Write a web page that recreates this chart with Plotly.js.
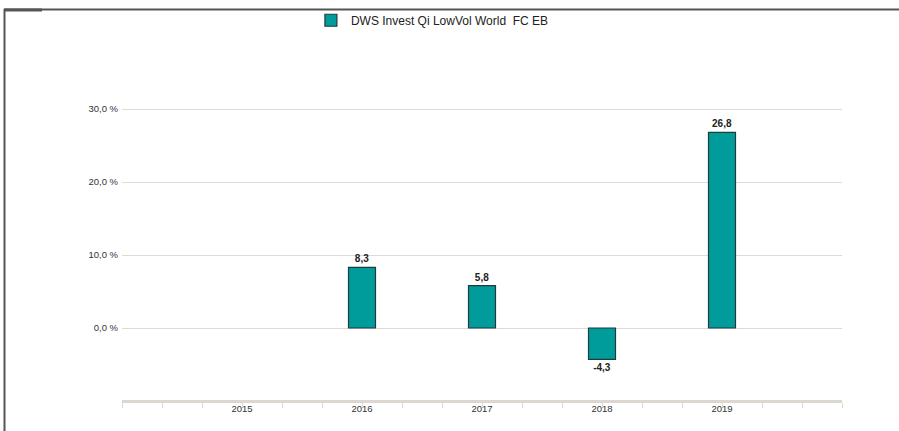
<!DOCTYPE html>
<html>
<head>
<meta charset="utf-8">
<script src="https://cdn.plot.ly/plotly-3.0.1.min.js"></script>
<style>
html,body{margin:0;padding:0;background:#fff;}
#chart{width:899px;height:431px;}
</style>
</head>
<body>
<div id="chart"></div>
<script>
// Data
var seriesName = "DWS Invest Qi LowVol World  FC EB";
var years = [2015, 2016, 2017, 2018, 2019];
var returns = [null, 8.3, 5.8, -4.3, 26.8];
var yTickValues = [0, 10, 20, 30, 40];
var xTickLabels = ["2015", "2016", "2017", "2018", "2019"];

var fontFam = "Arial, 'Liberation Sans', sans-serif";

var trace = {
  type: "bar",
  name: seriesName,
  x: years,
  y: returns,
  width: 0.225,
  marker: {color: "#009b9b", line: {color: "#1e3c3c", width: 1.2}},
  texttemplate: "%{y:.1f}",
  textposition: "outside",
  textfont: {family: fontFam, size: 10, color: "#222", weight: "bold"},
  cliponaxis: false,
  hoverinfo: "skip"
};

// border geometry in paper coords
var L = 122, R = 842, T = 36, B = 400;
function px(x){ return (x - L) / (R - L); }
function py(y){ return (B - y) / (B - T); }

var layout = {
  width: 899, height: 431,
  margin: {l: L, r: 899 - R, t: T, b: 431 - B, pad: 0},
  paper_bgcolor: "#fff",
  plot_bgcolor: "#fff",
  separators: ",.",
  font: {family: fontFam, size: 9, color: "#333"},
  showlegend: true,
  legend: {
    orientation: "h",
    xref: "container", yref: "container",
    x: 0.481, xanchor: "center",
    y: 0.953, yanchor: "middle",
    font: {family: fontFam, size: 12, color: "#222"},
    bgcolor: "rgba(0,0,0,0)"
  },
  xaxis: {
    range: [2014, 2020],
    tickmode: "array",
    tickvals: years,
    ticktext: xTickLabels,
    ticks: "outside",
    ticklen: 5,
    tickwidth: 1,
    tickcolor: "#dcd8d0",
    ticklabelstandoff: -7,
    showgrid: false,
    zeroline: false,
    showline: true,
    linecolor: "#dcd8d0",
    linewidth: 3,
    tickfont: {family: fontFam, size: 9.5, color: "#333"},
    minor: {tick0: 2014, dtick: 1/3, ticks: "outside", ticklen: 5, tickwidth: 1, tickcolor: "#dcd8d0", showgrid: false},
    fixedrange: true
  },
  yaxis: {
    range: [-9.86, 40],
    tickmode: "array",
    tickvals: yTickValues,
    ticktext: yTickValues.map(function(v){ return v === 40 ? "" : v.toFixed(1).replace(".", ",") + " %"; }),
    showgrid: true,
    gridcolor: "#dedad4",
    gridwidth: 1,
    zeroline: false,
    showline: false,
    ticks: "",
    ticklabelstandoff: 3,
    tickfont: {family: fontFam, size: 9.5, color: "#333"},
    fixedrange: true
  },
  shapes: [
    {type: "line", xref: "paper", yref: "paper", x0: px(4), x1: px(899), y0: py(9.5), y1: py(9.5), line: {color: "#555", width: 2}},
    {type: "line", xref: "paper", yref: "paper", x0: px(4), x1: px(42), y0: py(10), y1: py(10), line: {color: "#555", width: 3}},
    {type: "line", xref: "paper", yref: "paper", x0: px(4.5), x1: px(4.5), y0: py(9), y1: py(431), line: {color: "#555", width: 2}}
  ]
};

Plotly.newPlot("chart", [trace], layout, {displayModeBar: false, staticPlot: true});
</script>
</body>
</html>
